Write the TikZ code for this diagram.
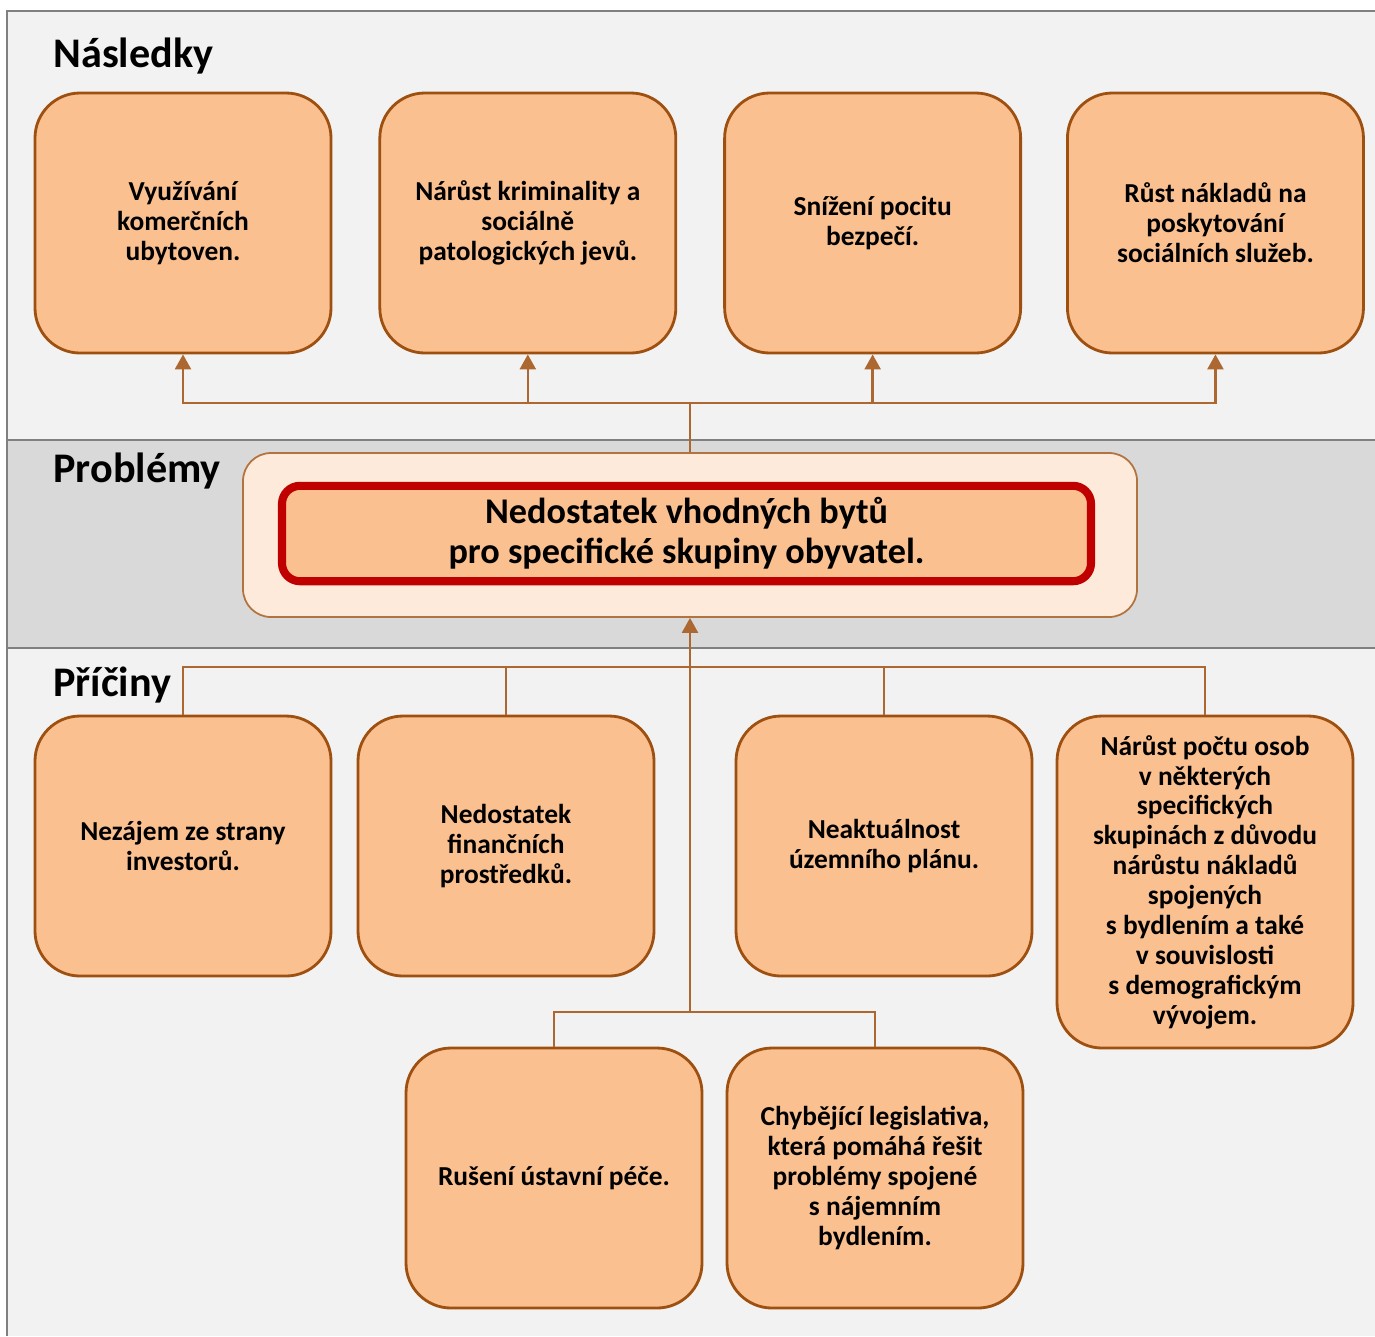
\documentclass[tikz,border=0pt]{standalone}
\usepackage{fontspec}
\setmainfont{Carlito}
\usepackage{tikz}
\usetikzlibrary{arrows.meta,positioning,calc}
\definecolor{boxfill}{RGB}{250,192,144}
\definecolor{boxline}{RGB}{158,80,16}
\definecolor{linkbrown}{RGB}{172,104,48}
\definecolor{bandlight}{RGB}{242,242,242}
\definecolor{banddark}{RGB}{217,217,217}
\definecolor{frameGray}{RGB}{128,128,128}
\definecolor{probfill}{RGB}{253,234,218}
\definecolor{probred}{RGB}{192,0,0}

\begin{document}
\begin{tikzpicture}[
    boxnode/.style={rectangle, draw=boxline, line width=0.8pt, fill=boxfill, rounded corners=0.45cm,
        minimum width=2.96cm, minimum height=2.60cm, align=center,
        font=\bfseries\fontsize{7.8}{8.5}\selectfont},
    outerbox/.style={rectangle, draw=boxline!80, line width=0.5pt, fill=probfill, rounded corners=0.28cm,
        minimum width=8.94cm, minimum height=1.64cm},
    innerbox/.style={rectangle, draw=probred, line width=2.3pt, fill=boxfill, rounded corners=0.18cm,
        minimum width=8.09cm, minimum height=0.91cm, align=center,
        font=\bfseries\fontsize{10.3}{11.4}\selectfont},
    section/.style={anchor=west, font=\bfseries\fontsize{12}{14}\selectfont},
    link/.style={draw=linkbrown, line width=0.7pt},
    edge/.style={link, -{Triangle[width=0.16cm,length=0.15cm]}, color=linkbrown}
]

    % Background bands
    \useasboundingbox (0,0) rectangle (13.75,-13.36);
    \fill[white] (0,0) rectangle (13.75,-13.36);
    \fill[bandlight] (0.07,-0.11) rectangle (13.75,-13.36);
    \fill[banddark] (0.07,-4.40) rectangle (13.75,-6.48);
    \draw[frameGray, line width=0.6pt] (0.07,-13.36) -- (0.07,-0.11) -- (13.75,-0.11);
    \draw[frameGray, line width=0.6pt] (0.07,-4.40) -- (13.75,-4.40);
    \draw[frameGray, line width=0.6pt] (0.07,-6.48) -- (13.75,-6.48);

    \node[section] (lnasl) at (0.41,-0.56) {Následky};
    \node[section] (lprob) at (0.41,-4.71) {Problémy};
    \node[section] (lpric) at (0.41,-6.85) {Příčiny};

    % Následky
    \node[boxnode] (eff1) at (1.83,-2.23) {Využívání\\komerčních\\ubytoven.};
    \node[boxnode, right=0.46cm of eff1] (eff2) {Nárůst kriminality a\\sociálně\\patologických jevů.};
    \node[boxnode, right=0.46cm of eff2] (eff3) {Snížení pocitu\\bezpečí.};
    \node[boxnode, right=0.44cm of eff3] (eff4) {Růst nákladů na\\poskytování\\sociálních služeb.};

    % Problém
    \node[outerbox] (probout) at (6.90,-5.35) {};
    \node[innerbox] (prob) at (6.865,-5.335) {Nedostatek vhodných bytů\\pro specifické skupiny obyvatel.};

    % Příčiny
    \node[boxnode] (cause1) at (1.83,-8.46) {Nezájem ze strany\\investorů.};
    \node[boxnode] (cause2) at (5.06,-8.46) {Nedostatek\\finančních\\prostředků.};
    \node[boxnode] (cause3) at (8.84,-8.46) {Neaktuálnost\\územního plánu.};
    \node[boxnode, minimum height=3.32cm] (cause4) at (12.05,-8.82) {Nárůst počtu osob\\v některých\\specifických\\skupinách z důvodu\\nárůstu nákladů\\spojených\\s bydlením a také\\v souvislosti\\s demografickým\\vývojem.};
    \node[boxnode] (cause5) at (5.54,-11.78) {Rušení ústavní péče.};
    \node[boxnode] (cause6) at (8.75,-11.78) {Chybějící legislativa,\\která pomáhá řešit\\problémy spojené\\s nájemním\\bydlením.};

    % Connectors up to Následky
    \coordinate (tophub) at (6.90,-4.03);
    \draw[link] (probout.north) -- (tophub);
    \draw[edge] (tophub) -| (eff1.south);
    \draw[edge] (tophub) -| (eff2.south);
    \draw[edge] (tophub) -| (eff3.south);
    \draw[edge] (tophub) -| (eff4.south);

    % Connectors from Příčiny
    \coordinate (bothub) at (6.90,-6.67);
    \coordinate (lowhub) at (6.90,-10.12);
    \draw[link] (cause1.north) |- (bothub) -| (cause4.north);
    \draw[link] (cause2.north) -- (cause2.north |- bothub);
    \draw[link] (cause3.north) -- (cause3.north |- bothub);
    \draw[link] (cause5.north) |- (lowhub) -| (cause6.north);
    \draw[edge] (lowhub) -- (probout.south);

\end{tikzpicture}
\end{document}
